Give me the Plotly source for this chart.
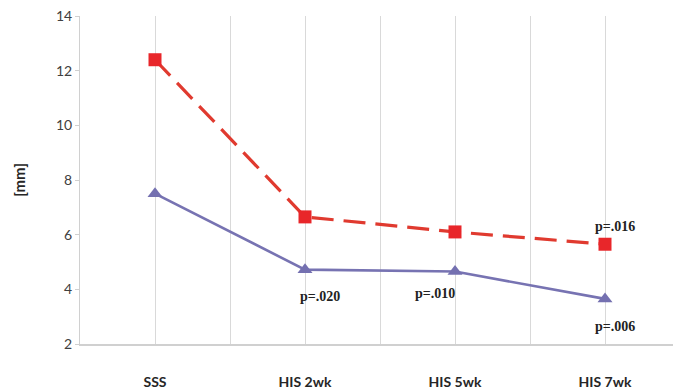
import plotly.graph_objects as go

categories = ["SSS", "HIS 2wk", "HIS 5wk", "HIS 7wk"]
red_values = [12.4, 6.65, 6.1, 5.65]
blue_values = [7.5, 4.72, 4.65, 3.65]
p_labels = ["p=.020", "p=.010", "p=.006", "p=.016"]
p_cats = [1, 2, 3, 3]
p_y = [3.75, 3.85, 2.65, 6.3]
p_xshift = [15, -20, 10, 10]

xs = list(range(len(categories)))

fig = go.Figure()
fig.add_trace(go.Scatter(
    x=xs, y=red_values, mode="lines+markers",
    line=dict(color="#e03a2f", width=3.2, dash="22px,10px"),
    marker=dict(symbol="square", size=13, color="#e8262a"),
    showlegend=False,
))
fig.add_trace(go.Scatter(
    x=xs, y=blue_values, mode="lines+markers",
    line=dict(color="#7773b2", width=2.6),
    marker=dict(symbol="triangle-up", size=13, color="#7470b0"),
    showlegend=False,
))

for lab, c, y, dx in zip(p_labels, p_cats, p_y, p_xshift):
    fig.add_annotation(
        x=c, y=y, text="<b>" + lab + "</b>", showarrow=False, xshift=dx,
        font=dict(family="Liberation Serif, Times New Roman, serif", size=14, color="#222222"),
    )

# page body has an 8px margin, so the figure is sized/offset to compensate
fig.update_layout(
    width=673, height=381,
    margin=dict(l=72, r=1, t=8, b=45),
    paper_bgcolor="white", plot_bgcolor="white",
    font=dict(family="Lato, Open Sans, sans-serif", color="#404040"),
)
fig.update_xaxes(
    range=[-0.5, 3.5], tickvals=xs, ticktext=["<b>" + c + "</b>" for c in categories],
    tickfont=dict(size=14, color="#262626", family="Lato, Open Sans, sans-serif"),
    showgrid=True, gridcolor="#d9d9d9", gridwidth=1,
    minor=dict(tickvals=[-0.5, 0.5, 1.5, 2.5, 3.5], showgrid=True, gridcolor="#d9d9d9", gridwidth=1),
    showline=True, linecolor="#d0d0d0", linewidth=1.5,
    ticks="", ticklabelstandoff=24, zeroline=False, automargin=False,
)
fig.update_yaxes(
    range=[2, 14], dtick=2, tickfont=dict(size=14, color="#404040"),
    showgrid=False, showline=True, linecolor="#d0d0d0", linewidth=1,
    ticks="outside", ticklen=4, tickcolor="#d0d0d0",
    title=dict(text="<b>[mm]</b>", font=dict(size=15, color="#262626"), standoff=26),
    zeroline=False, automargin=False, ticklabeloverflow="allow",
)

fig.write_html("out.html")
